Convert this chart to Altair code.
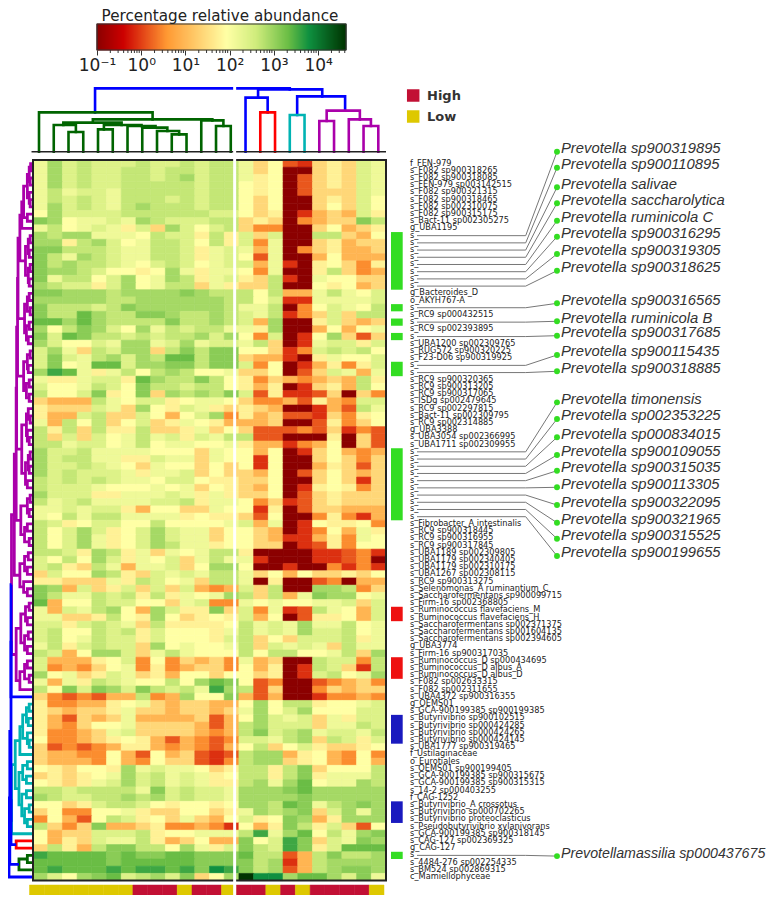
import altair as alt
import pandas as pd

# ---------- data ----------
row_names = [
"f_FEN-979","s_F082 sp900318265","s_F082 sp900318085","s_FEN-979 sp003142515","s_F082 sp900321315",
"s_F082 sp900318465","s_F082 sp002310075","s_F082 sp900315175","s_Bact-11 sp002305275","g_UBA1195",
"s_","s_","s_","s_","s_","s_","s_","s_",
"g_Bacteroides_D","o_AKYH767-A","s_","s_RC9 sp000432515","s_","s_RC9 sp002393895","s_",
"s_UBA1200 sp002309765","s_RUG572 sp900320225","s_F23-D06 sp900319925","s_","s_",
"s_RC9 sp900320365","s_RC9 sp900313205","s_RC9 sp900317065","s_ISDg sp002479645","s_RC9 sp002297815",
"s_Bact-11 sp002309795","s_RC9 sp002314885","g_UBA3388","s_UBA3054 sp002366995","s_UBA1711 sp002309955",
"s_","s_","s_","s_","s_","s_","s_","s_","s_","s_",
"s_Fibrobacter_A intestinalis","s_RC9 sp900318445","s_RC9 sp900316955","s_RC9 sp900317845","s_UBA1189 sp002309805",
"s_UBA1179 sp002340405","s_UBA1179 sp002310175","s_UBA1267 sp002308115","s_RC9 sp900313275","s_Selenomonas_A ruminantium_C",
"s_Saccharofermentans sp900099715","s_Firm-16 sp002368805","s_Ruminococcus flavefaciens_M","s_Ruminococcus flavefaciens_H",
"s_Saccharofermentans sp002371375","s_Saccharofermentans sp001604135","s_Saccharofermentans sp002394605","g_UBA3774",
"s_Firm-16 sp900317035","s_Ruminococcus_D sp000434695","s_Ruminococcus_D albus_A","s_Ruminococcus_D albus_D",
"s_F082 sp002633315","s_F082 sp002311655","s_UBA4372 sp900316355","g_OEMS01","s_GCA-900199385 sp900199385",
"s_Butyrivibrio sp900102515","s_Butyrivibrio sp000424285","s_Butyrivibrio sp000424265","s_Butyrivibrio sp000424145",
"s_UBA1777 sp900319465","f_Ustilaginaceae","o_Eurotiales","s_OEMS01 sp900199405","s_GCA-900199385 sp900315675",
"s_GCA-900199385 sp900315315","s_14-2 sp000403255","f_CAG-1252","s_Butyrivibrio_A crossotus","s_Butyrivibrio sp000702265",
"s_Butyrivibrio proteoclasticus","s_Pseudobutyrivibrio xylanivorans","s_GCA-900199385 sp900318145","s_CAG-127 sp002369325",
"g_CAG-127","s_","s_4484-276 sp002254335","s_BM524 sp002869315","c_Mamiellophyceae",
]

# one character per cell; see level_log10
heat_rows = [
"8b9a999a99a9aa8572156598","8b9a99aa9aa9aa8570056598","8b9a99aa9ab9aa8670256598","8b9a99aaaaa9aa7670256598",
"8a8998aaaaa9aa7670255598","8a9a98aaa9a9aa7570056597","8b9a98abaaa9aa7570057597","7b9999aaaaaa997560145496",
"cb78898ba999aa56503455ca","8a7898695b979a5330057456","babb8887a996a695900aa547","bb6ab978aa97a69380056455",
"ccaaa988aa96898480356445","ca8ba988aa96897280047444","cabaa9879a97899481067536","cbba97767b8688738006a534",
"c8aa79b78ba68965a1087755","ba9969b78aa58655a0076745","ccbbbabbbbcbaaa7a448a879","bbbbbaabbbbbbaa791188889",
"caaa9acbbbbbba88a037987a","caadbaaccbaaba98a13595aa","ddbdbaaaacaaba94b0069545","b7acb97b8a9aa886b0047478",
"c9dcaa9a9aab9b739017b525","b97798bb89b8998a50189969","9b85a9bb5acacc775139a9a7","9c98ab9baddacc5441068779",
"9c78dd9bbccacc9370146369","bed868a7aba7785570259848","8668996dbaaca763543454a6","9778a97caa9aa764601564a7",
"a779c67c5babac9261125053","5444a8799678875334264399","6555985b76986565400142a8","6449a5597479b36452215367",
"84a7a5795687644450026357","a6a5a66a5568575222325132","a595978a89698aa220006052","aa89978a7887786441347052",
"b99a88887775877470157434","b9aa88669885877170057535","b99a98758775757170046525","b9a999868895755470257545",
"a9a9a9887997665570057515","a99987778785765470167635","b99966888986865570256555","a89a888899a6887351256555",
"889899647755877160255444","87a8aa888867665270036314","a9679977a777789480176673","a79b9679b988577540137486",
"a79b8679b988577541146387","a79b8679ba88677550126377","aa96ba685878aa6000011231","97a7b9687958a88100011230",
"9a65a8488957bb7001003131","5977ba659898aa8574755657","6655586a9785aa8060023044","cb49569595943495a00bba35",
"ca88a9a6a6878ba5a48cbb78","d477a9977589338787788959","8498ab74b966c593812a8749","88556a76b756769470266749",
"9969a985a66667a898b88a78","9a77a9a6977768a898b99a78","9a78a996977769a575999a68","8a69a995b78778a598985a88",
"a947bb958a8777a7aa778a5b","9444679373545384500a993a","9343578363455374601a951a","b7856985647757756019a78b",
"8486a9877a7bdc7230023453","a7c9cb9ca9a8eba250035455","5323244a34b77c4240013343","633446785455447b7aa67789",
"654556855455458b79b77799","642545844445247b98958699","64357785555424ab999588a9","63345895555434ac9ab8998a",
"73345676424323998ab5a969","523234664343247a57965567","54433742745212abb4674373","54443743755213abb5674374",
"765776b8988756aa6ac5777a","565678b9a89867aa6ac6888a","765689b9a89866ab8bd788ba","aa9aaaa8c9a998bbbcdbbbbb",
"ba99aabab9a998bbbbcbbbbb","77569aa9767767bbadc8abcb","573377865577568babc59b8b","37427a96758547967cb46bbb",
"a535c445633431746ca69527","7455999a677888ae8bd7a8bc","7465988a645744c79ec598cb","5a64accaa7b869ca9ec69ddd",
"eddddcdccddcccdaa24acaab","dddddcdddddccccab14abbbb","dedddedeedecfecab24abccb","b97bcd9ab9c57bhffbddb9c8",
]
level_log10 = {"0":-1.0,"1":-0.1,"2":0.15,"3":0.5,"4":0.95,"5":1.4,"6":1.75,"7":1.93,"8":2.15,"9":2.4,
               "a":2.68,"b":2.9,"c":3.1,"d":3.33,"e":3.55,"f":3.79,"g":4.2,"h":4.63}

cbar_stops_log10 = [-1.0,-0.41,0.58,1.93,2.6,3.33,3.79,4.63]
cbar_colors = ["#8B0000","#CC0000","#FF9933","#FFFFA5","#CFEC7C","#6ABD45","#0F9040","#003300"]
cbar_major = [0.1,1,10,100,1000,10000]
cbar_minor = [m*10**e for e in range(-1,5) for m in range(2,10) if m*10**e < 42000]

sample_group = ["Low"]*7+["High"]*3+["Low"]+["High"]*2+["Low"]+["High"]*2+["Low"]+["High"]+["Low"]+["High"]*4+["Low"]
group_names = ["High","Low"]
group_colors = ["#C21034","#DEC800"]

side_start = [10,20,22,24,28,40,62,69,77,89,96]
side_end   = [18,21,23,25,30,50,64,72,81,92,97]
side_color = ["#33DD22"]*6+["#EE1111","#EE1111","#1A1ABF","#1A1ABF","#33DD22"]

species_names = ["Prevotella sp900319895","Prevotella sp900110895","Prevotella salivae","Prevotella saccharolytica",
"Prevotella ruminicola C","Prevotella sp900316295","Prevotella sp900319305","Prevotella sp900318625",
"Prevotella sp900316565","Prevotella ruminicola B","Prevotella sp900317685","Prevotella sp900115435","Prevotella sp900318885",
"Prevotella timonensis","Prevotella sp002353225","Prevotella sp000834015","Prevotella sp900109055","Prevotella sp900315035",
"Prevotella sp900113305","Prevotella sp900322095","Prevotella sp900321965","Prevotella sp900315525","Prevotella sp900199655",
"Prevotellamassilia sp000437675"]
species_row = [10,11,12,13,14,15,16,17,20,22,24,28,29,40,41,42,43,44,45,46,47,48,49,96]
species_slot = [-1.15,1.07,3.79,6.01,8.42,10.64,13.04,15.36,19.89,22.38,24.38,27.06,29.32,33.63,35.94,38.48,
                40.94,43.12,45.42,47.88,50.33,52.55,54.95,96.6]

# top dendrogram: left leg, right leg, merge height, left child height, right child height, colour
BLUE,RED,CYAN,MAG,GRN = "#0000FF","#FF0000","#00B3B3","#AA00AA","#006400"
top_links = [
(3.8,17.0,190,118,187,BLUE),(14.85,19.2,187,162,166,BLUE),(14,15.5,162,0,118,BLUE),(15,16,118,0,0,RED),
(17.5,20.75,166,110,123,BLUE),(17,18,110,0,0,CYAN),(19.5,21.75,123,92,97,MAG),(19,20,92,0,0,MAG),
(21,22.5,97,0,77,MAG),(22,23,77,0,0,MAG),(0,7.7,118,0,97,GRN),(3.65,11.75,97,87,94,GRN),(11,12.5,94,0,77,GRN),
(12,13,77,0,0,GRN),(1.65,5.6,87,80,80,GRN),(1,2.5,80,0,59,GRN),(2,3,59,0,0,GRN),(4.4,6.95,80,67,77,GRN),
(4,5,67,0,0,GRN),(6,7.9,77,0,72,GRN),(7,8.7,72,0,62,GRN),(8,9.5,62,0,52,GRN),(9,10,52,0,0,GRN),
]

# left dendrogram: [merge depth, upper child, lower child, (colour)]; a plain number is a row
a0 = [5,[3,[1.5,0,1],[2,2,3]],[3,4,[2,5,6]]]
a1 = [9,a0,[5,7,8]]
a2 = [11,a1,9]
b0 = [7,[4,[2,10,11],[3,12,13]],[4,[2,14,15],[3,16,17]]]
a3 = [13,a2,b0]
c0 = [8,[5,[3,18,19],[2,20,21]],[6,[3,22,23],[4,24,25]]]
a4 = [15,a3,c0]
d0 = [9,[5,[2,26,27],[4,28,29]],[6,[3,30,31],[3,32,33]]]
a5 = [15.5,a4,d0]
e0 = [11,[6,[4,34,[2,35,36]],[5,37,[3,38,39]]],[7,[4,[2,40,41],[3,42,43]],[5,44,45]]]
a6 = [16.5,a5,e0]
f0 = [12,[5,[2,46,47],[3,48,49]],[8,[5,50,51],[3,52,53]]]
a7 = [17,a6,f0]
g0 = [13,[8,[4,54,55],[5,56,57]],[9,58,[5,59,60]]]
upper = [19,a7,g0]
lower = [17,[12,[7,[3,61,62],[5,63,64]],[8,[4,65,66],[5,67,68]]],[13,[8,[5,69,70],[3,71,72]],73]]
magenta_tree = [22,upper,lower,MAG]
cy1 = [6,[3,75,76],[4,77,78]]
cy2 = [10,cy1,[5,79,[3,80,81]]]
cy3 = [13,cy2,82]
cy5 = [18,cy3,[14,[10,[5,83,84],[6,85,86]],[11,[6,87,88],[8,[3,89,90],[5,91,92]]]]]
cyan_tree = [22,cy5,93,CYAN]
red_tree = [17,94,95,RED]
green_tree = [14,[5,96,97],98,GRN]
left_tree = [30,[29,[24,[24,magenta_tree,74],[24,cyan_tree,red_tree]],green_tree],99,BLUE]

cbar_steps = 249

# ---------- tables ----------
heat = pd.DataFrame([
    {"col":c,"col2":c+1,"row":r,"row2":r+1,"abundance":10**level_log10[ch]}
    for r,s in enumerate(heat_rows) for c,ch in enumerate(s)])
assert all(len(s)==24 for s in heat_rows) and len(heat_rows)==100==len(row_names)

lo,hi = 10**cbar_stops_log10[0],10**cbar_stops_log10[-1]
cbar = pd.DataFrame([{"v":10**(-1+5.63*i/cbar_steps),"v2":10**(-1+5.63*(i+1)/cbar_steps)} for i in range(cbar_steps)])
cscale = alt.Scale(type="log",domain=[10**x for x in cbar_stops_log10],range=cbar_colors,interpolate="rgb",clamp=True)

top_rows=[]
for k,(xl,xr,h,hl,hr,c) in enumerate(top_links):
    for i,(x,y) in enumerate([(xl,hl),(xl,h),(xr,h),(xr,hr)]):
        top_rows.append({"link":k,"i":i,"x":x,"h":y,"c":c})
top_df=pd.DataFrame(top_rows)

left_rows=[]
counter=[0]
def walk(node,color):
    if not isinstance(node,list):
        return node+0.5,0
    if len(node)==4:
        color=node[3]
    y1,d1=walk(node[1],color)
    y2,d2=walk(node[2],color)
    k=counter[0]; counter[0]+=1
    for i,(d,y) in enumerate([(d1,y1),(node[0],y1),(node[0],y2),(d2,y2)]):
        left_rows.append({"link":k,"i":i,"d":d,"y":y,"c":color})
    return (y1+y2)/2,node[0]
walk(left_tree,BLUE)
left_df=pd.DataFrame(left_rows)

conn_rows=[]
for k,(r,s) in enumerate(zip(species_row,species_slot)):
    conn_rows += [{"k":k,"stage":0,"y":r+.5},{"k":k,"stage":1,"y":r+.5},{"k":k,"stage":2,"y":s}]
conn=pd.DataFrame(conn_rows)
spec=pd.DataFrame({"name":species_names,"slot":species_slot,"text_slot":[s-0.35 for s in species_slot]})
labels=pd.DataFrame({"name":row_names,"y":[i+.5 for i in range(100)]})
bottom=pd.DataFrame({"col":list(range(24)),"col2":list(range(1,25)),"g":sample_group})
side=pd.DataFrame({"a":side_start,"b":side_end,"c":side_color})
legend=pd.DataFrame({"g":group_names,"pos":[0,1]})
minor=pd.DataFrame({"v":cbar_minor})

# ---------- scales (pixel ranges are the chart's own layout) ----------
xcol=alt.Scale(domain=[0,24],range=[25,378],nice=False,zero=False)
yrow=alt.Scale(domain=[0,100],range=[152,872.6],nice=False,zero=False)
xtop=alt.Scale(domain=[0,23],range=[31,370.3],nice=False,zero=False)
ytop=alt.Scale(domain=[0,190],range=[143.67,80.33],nice=False,zero=False)
xleft=alt.Scale(domain=[0,22,24,29,30],range=[24,3.5,3,1.8,1],nice=False,zero=False)
xbar=alt.Scale(type="log",domain=[lo,hi],range=[89,338],nice=False)
xbottom=alt.Scale(domain=[0,24],range=[21.5,376],nice=False,zero=False)
xconn=alt.Scale(domain=[0,1,2],range=[409,517.7,549],nice=False,zero=False)
ylegend=alt.Scale(domain=[0,1],range=[87.5,108.5],nice=False,zero=False)
gcolor=alt.Scale(domain=group_names,range=group_colors)
FONT="DejaVu Sans"
W,H=762,887

layers=[]
# colour bar with its major ticks and labels
layers.append(alt.Chart(cbar).mark_rect().encode(
    x=alt.X("v:Q",scale=xbar,title=None,axis=alt.Axis(values=cbar_major,tickSize=5,domain=False,grid=False,tickColor="#333333",
        tickWidth=1,labelFont=FONT,labelFontSize=17,labelColor="#222222",labelPadding=2,labelOverlap=False,labelFlush=False,
        labelExpr="'10' + ['\u207b\u00b9','\u2070','\u00b9','\u00b2','\u00b3','\u2074'][round(log(datum.value)/LN10)+1]",offset=42-H)),
    x2="v2:Q",y=alt.value(16),y2=alt.value(42),
    color=alt.Color("v:Q",scale=cscale,legend=None),stroke=alt.Stroke("v:Q",scale=cscale,legend=None)))
layers.append(alt.Chart(minor).mark_rule(color="#333333",strokeWidth=1).encode(
    x=alt.X("v:Q",scale=xbar,axis=None),y=alt.value(42),y2=alt.value(45)))
layers.append(alt.Chart(pd.DataFrame({"a":[lo],"b":[hi]})).mark_rect(fill="transparent",stroke="#333333",strokeWidth=1.2).encode(
    x=alt.X("a:Q",scale=xbar,axis=None),x2="b:Q",y=alt.value(16),y2=alt.value(42)))
layers.append(alt.Chart(pd.DataFrame({"t":["Percentage relative abundance"]})).mark_text(font=FONT,fontSize=15.2,color="#222222",baseline="alphabetic").encode(
    text="t:N",x=alt.value(212),y=alt.value(12.6)))
# top dendrogram
layers.append(alt.Chart(top_df).mark_line(strokeWidth=2.6,strokeCap="square",strokeJoin="miter").encode(
    x=alt.X("x:Q",scale=xtop,axis=None),y=alt.Y("h:Q",scale=ytop,axis=None),detail="link:N",order="i:Q",
    color=alt.Color("c:N",scale=None)))
layers.append(alt.Chart(pd.DataFrame({"a":[-0.1],"b":[24]})).mark_rule(color="#222222",strokeWidth=1.6).encode(
    x=alt.X("a:Q",scale=xcol,axis=None),x2="b:Q",y=alt.value(143.7)))
# left dendrogram
layers.append(alt.Chart(left_df).mark_line(strokeWidth=2.8,strokeJoin="miter").encode(
    x=alt.X("d:Q",scale=xleft,axis=None),y=alt.Y("y:Q",scale=yrow,axis=None),detail="link:N",order="i:Q",
    color=alt.Color("c:N",scale=None)))
# heat map
layers.append(alt.Chart(heat).mark_rect(strokeWidth=0.6).encode(
    x=alt.X("col:Q",scale=xcol,axis=None),x2="col2:Q",y=alt.Y("row:Q",scale=yrow,axis=None),y2="row2:Q",
    color=alt.Color("abundance:Q",scale=cscale,legend=None),stroke=alt.Stroke("abundance:Q",scale=cscale,legend=None)))
layers.append(alt.Chart(pd.DataFrame({"a":[0],"b":[24],"c":[0],"d":[100]})).mark_rect(fill="transparent",stroke="#222222",strokeWidth=2).encode(
    x=alt.X("a:Q",scale=xcol,axis=None),x2="b:Q",y=alt.Y("c:Q",scale=yrow,axis=None),y2="d:Q"))
# sample group strip
layers.append(alt.Chart(bottom).mark_rect(strokeWidth=0.5).encode(
    x=alt.X("col:Q",scale=xbottom,axis=None),x2="col2:Q",y=alt.value(877),y2=alt.value(887),
    color=alt.Color("g:N",scale=gcolor,legend=None),stroke=alt.Stroke("g:N",scale=gcolor,legend=None)))
# gap between the two sample clusters
layers.append(alt.Chart(pd.DataFrame({"a":[13.71]})).mark_rule(color="#FFFFFF",strokeWidth=3).encode(
    x=alt.X("a:Q",scale=xcol,axis=None),y=alt.value(76),y2=alt.value(887)))
# side bars
layers.append(alt.Chart(side).mark_rect().encode(
    x=alt.value(383),x2=alt.value(394.7),y=alt.Y("a:Q",scale=yrow,axis=None),y2="b:Q",color=alt.Color("c:N",scale=None)))
# row labels
layers.append(alt.Chart(labels).mark_text(align="left",baseline="middle",font=FONT,fontSize=8.2,color="#222222").encode(
    x=alt.value(402),y=alt.Y("y:Q",scale=yrow,axis=None),text="name:N"))
# connectors
layers.append(alt.Chart(conn).mark_line(color="#777777",strokeWidth=1).encode(
    x=alt.X("stage:Q",scale=xconn,axis=None),y=alt.Y("y:Q",scale=yrow,axis=None),detail="k:N",order="stage:Q"))
layers.append(alt.Chart(spec).mark_circle(size=35,color="#33DD22",opacity=1).encode(
    x=alt.value(549),y=alt.Y("slot:Q",scale=yrow,axis=None)))
layers.append(alt.Chart(spec.iloc[:-1]).mark_text(align="left",baseline="middle",font="Liberation Sans",fontSize=14.8,fontStyle="italic",color="#333333").encode(
    x=alt.value(553),y=alt.Y("text_slot:Q",scale=yrow,axis=None),text="name:N"))
layers.append(alt.Chart(spec.iloc[-1:]).mark_text(align="left",baseline="middle",font="Liberation Sans",fontSize=14.2,fontStyle="italic",color="#333333").encode(
    x=alt.value(553),y=alt.Y("text_slot:Q",scale=yrow,axis=None),text="name:N"))
# High / Low legend
layers.append(alt.Chart(legend).mark_square(size=156,opacity=1).encode(
    x=alt.value(405.2),y=alt.Y("pos:Q",scale=ylegend,axis=None),color=alt.Color("g:N",scale=gcolor,legend=None)))
layers.append(alt.Chart(legend).mark_text(align="left",baseline="middle",font=FONT,fontSize=13,fontWeight="bold",color="#333333").encode(
    x=alt.value(419),y=alt.Y("pos:Q",scale=ylegend,axis=None),text="g:N"))

chart=alt.layer(*layers).resolve_scale(x="independent",y="independent",color="independent",stroke="independent").properties(
    width=W,height=H,padding=0,autosize=alt.AutoSizeParams(type="none")).configure_view(stroke=None)
chart.save("out.html",embed_options={"renderer":"svg","actions":False})
